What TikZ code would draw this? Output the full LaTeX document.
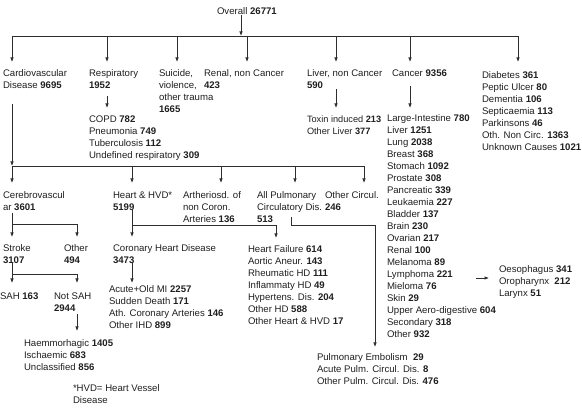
\documentclass[tikz,border=0pt]{standalone}
\usepackage{fontspec}
\setmainfont{Liberation Sans}
\usetikzlibrary{arrows.meta}
\begin{document}
\begin{tikzpicture}[x=1pt,y=-1pt,
  lbl/.style={anchor=north west, inner sep=0pt, outer sep=0pt, align=left,
    font=\fontsize{9.6}{12}\selectfont, text=black!88},
  conn/.style={line width=0.75pt, draw=black!82},
  arr/.style={conn, -{Latex[length=4.5pt,width=3.6pt]}}]
\useasboundingbox (0,0) rectangle (582,409);
% ---------- level 0 / 1 ----------
\node[lbl] (overall) at (217,7.5) {Overall \textbf{26771}};
\node[lbl] (cardio) at (3,69.5) {Cardiovascular\\Disease \textbf{9695}};
\node[lbl] (resp) at (89,69.5) {Respiratory\\\textbf{1952}};
\node[lbl] (suic) at (159,69.5) {Suicide,\\violence,\\other trauma\\\textbf{1665}};
\node[lbl] (renal) at (204,69.5) {Renal, non Cancer\\\textbf{423}};
\node[lbl] (liver) at (307,69.5) {Liver, non Cancer\\\textbf{590}};
\node[lbl] (cancer) at (392,69.5) {Cancer \textbf{9356}};
\node[lbl] (diab) at (482,71.5) {Diabetes \textbf{361}\\Peptic Ulcer \textbf{80}\\Dementia \textbf{106}\\Septicaemia \textbf{113}\\Parkinsons \textbf{46}\\Oth. Non Circ. \textbf{1363}\\Unknown Causes \textbf{1021}};
% ---------- lists level 2 ----------
\node[lbl] (resplist) at (89,115.5) {COPD \textbf{782}\\Pneumonia \textbf{749}\\Tuberculosis \textbf{112}\\Undefined respiratory \textbf{309}};
\node[lbl, font=\fontsize{9.2}{12}\selectfont] (liverlist) at (307,115.5) {Toxin induced \textbf{213}\\Other Liver \textbf{377}};
\node[lbl] (cancerlist) at (387,114.5) {Large-Intestine \textbf{780}\\Liver \textbf{1251}\\Lung \textbf{2038}\\Breast \textbf{368}\\Stomach \textbf{1092}\\Prostate \textbf{308}\\Pancreatic \textbf{339}\\Leukaemia \textbf{227}\\Bladder \textbf{137}\\Brain \textbf{230}\\Ovarian \textbf{217}\\Renal \textbf{100}\\Melanoma \textbf{89}\\Lymphoma \textbf{221}\\Mieloma \textbf{76}\\Skin \textbf{29}\\Upper Aero-digestive \textbf{604}\\Secondary \textbf{318}\\Other \textbf{932}};
\node[lbl] (oeso) at (499,265.5) {Oesophagus \textbf{341}\\Oropharynx\ \ \textbf{212}\\Larynx \textbf{51}};
% ---------- cardiovascular subtree ----------
\node[lbl] (cerebro) at (3,191.5) {Cerebrovascul\\ar \textbf{3601}};
\node[lbl] (heart) at (113,191.5) {Heart \& HVD*\\\textbf{5199}};
\node[lbl] (arth) at (183,191.5) {Artheriosd. of\\non Coron.\\Arteries \textbf{136}};
\node[lbl] (pulm) at (257,191.5) {All Pulmonary\\Circulatory Dis.\\\textbf{513}};
\node[lbl] (othcirc) at (325,191.5) {Other Circul.\\\textbf{246}};
\node[lbl] (stroke) at (3,244.5) {Stroke\\\textbf{3107}};
\node[lbl] (other) at (64,244.5) {Other\\\textbf{494}};
\node[lbl] (chd) at (113,244.5) {Coronary Heart Disease\\\textbf{3473}};
\node[lbl] (hflist) at (248,245.5) {Heart Failure \textbf{614}\\Aortic Aneur. \textbf{143}\\Rheumatic HD \textbf{111}\\Inflammaty HD \textbf{49}\\Hypertens. Dis. \textbf{204}\\Other HD \textbf{588}\\Other Heart \& HVD \textbf{17}};
\node[lbl] (sah) at (0,292.5) {SAH \textbf{163}};
\node[lbl] (notsah) at (54,292.5) {Not SAH\\\textbf{2944}};
\node[lbl] (amilist) at (109,285.5) {Acute+Old MI \textbf{2257}\\Sudden Death \textbf{171}\\Ath. Coronary Arteries \textbf{146}\\Other IHD \textbf{899}};
\node[lbl] (haemlist) at (24,339.5) {Haemmorhagic \textbf{1405}\\Ischaemic \textbf{683}\\Unclassified \textbf{856}};
\node[lbl] (pelist) at (317,353.5) {Pulmonary Embolism\ \ \textbf{29}\\Acute Pulm. Circul. Dis. \textbf{8}\\Other Pulm. Circul. Dis. \textbf{476}};
\node[lbl] (note) at (73,384.5) {*HVD= Heart Vessel\\Disease};
% ---------- connectors ----------
\coordinate (b0) at (241,36);
\draw[arr] (overall.south -| b0) -- (b0);
\coordinate (busL) at (12,36);
\coordinate (busR) at (518,36);
\draw[conn] (busL) -- (busR);
\foreach \x in {12,107,177,247,336,410,518} \draw[arr] (\x,36) -- (\x,62);
\draw[arr] (107,96) -- (107,108);
\draw[arr] (336,89) -- (336,108);
\draw[arr] (410,86) -- (410,108);
\coordinate (bus2L) at (12,166);
\coordinate (bus2R) at (364,166);
\draw[arr] (12,104) -- (bus2L);
\draw[conn] (bus2L) -- (bus2R);
\foreach \x in {12,132,221,295,364} \draw[arr] (\x,166) -- (\x,183);
% cerebro
\draw[arr] (12,213) -- (12,237);
\draw[arr] (12,224) -| (77,237);
% stroke
\draw[arr] (12,263) -- (12,283);
\draw[arr] (12,274) -| (77,283);
\draw[arr] (77,314) -- (77,331);
% heart
\draw[arr] (132,210) -- (132,237);
\draw[arr] (132,225) -| (276,238);
\draw[arr] (132,263) -- (132,283);
% pulmonary
\draw[arr] (291,217) -- (291,225) -- (375,225) -- (375,347);
% oesophagus
\draw[arr] (476,278) -- (489,278);
\end{tikzpicture}
\end{document}
